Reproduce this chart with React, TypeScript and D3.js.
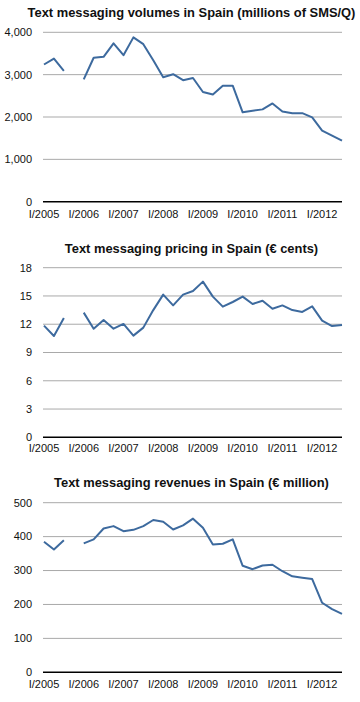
import React from "react";
import * as d3 from "d3";

const quarters: string[] = [
  "I/2005","II/2005","III/2005","IV/2005",
  "I/2006","II/2006","III/2006","IV/2006",
  "I/2007","II/2007","III/2007","IV/2007",
  "I/2008","II/2008","III/2008","IV/2008",
  "I/2009","II/2009","III/2009","IV/2009",
  "I/2010","II/2010","III/2010","IV/2010",
  "I/2011","II/2011","III/2011","IV/2011",
  "I/2012","II/2012","III/2012",
];

const xTickLabels: string[] = ["I/2005","I/2006","I/2007","I/2008","I/2009","I/2010","I/2011","I/2012"];

const volumes: (number | null)[] = [
  3240, 3380, 3090, null,
  2890, 3400, 3420, 3740,
  3460, 3880, 3720, 3340,
  2940, 3010, 2870, 2920,
  2590, 2530, 2740, 2740,
  2110, 2150, 2180, 2320,
  2130, 2090, 2090, 1990,
  1680, 1560, 1440,
];

const pricing: (number | null)[] = [
  11.85, 10.75, 12.66, null,
  13.23, 11.53, 12.45, 11.53,
  12.03, 10.79, 11.64, 13.5,
  15.14, 14.0, 15.14, 15.53,
  16.52, 14.93, 13.87, 14.36,
  14.93, 14.15, 14.5, 13.65,
  14.0, 13.5, 13.3, 13.9,
  12.38, 11.81, 11.92,
];

const revenues: (number | null)[] = [
  385, 362, 389, null,
  380, 392, 424, 431,
  416, 420, 431, 449,
  444, 421, 433, 453,
  426, 377, 379, 392,
  314, 304, 315, 317,
  298, 283, 279, 275,
  205, 186, 172,
];

const volumeTicks = [0, 1000, 2000, 3000, 4000];
const pricingTicks = [0, 3, 6, 9, 12, 15, 18];
const revenueTicks = [0, 100, 200, 300, 400, 500];

const titles = [
  "Text messaging volumes in Spain (millions of SMS/Q)",
  "Text messaging pricing in Spain (€ cents)",
  "Text messaging revenues in Spain (€ million)",
];

const FONT = "'Liberation Sans', Arial, Helvetica, sans-serif";
const LINE = "#3d6a9e";

type PanelProps = {
  title: string;
  values: (number | null)[];
  ticks: number[];
  fmt: (v: number) => string;
  titleY: number;
  top: number;
  bottom: number;
  labelY: number;
};

function Panel({ title, values, ticks, fmt, titleY, top, bottom, labelY }: PanelProps) {
  const x = d3.scalePoint<string>().domain(quarters).range([44, 342]);
  const y = d3.scaleLinear().domain([0, ticks[ticks.length - 1]]).range([bottom, top]);
  const line = d3
    .line<number | null>()
    .defined((d) => d !== null)
    .x((_, i) => x(quarters[i]) as number)
    .y((d) => y(d as number));
  return (
    <g>
      <text x={191.5} y={titleY} textAnchor="middle" fontFamily={FONT} fontWeight="bold" fontSize={12.9} fill="#111">
        {title}
      </text>
      {ticks.map((t) => (
        <g key={t}>
          {t !== 0 && (
            <line x1={43} x2={342} y1={y(t)} y2={y(t)} stroke="#a9a9a9" strokeWidth={1} />
          )}
          <text x={32} y={y(t)} dy="0.35em" textAnchor="end" fontFamily={FONT} fontSize={11} fill="#111">
            {fmt(t)}
          </text>
        </g>
      ))}
      <path d={line(values) || ""} fill="none" stroke={LINE} strokeWidth={2} strokeLinejoin="round" />
      <line x1={43} x2={342} y1={bottom} y2={bottom} stroke="#000" strokeWidth={1.5} />
      {xTickLabels.map((q) => (
        <text key={q} x={x(q)} y={labelY} textAnchor="middle" fontFamily={FONT} fontSize={11} fill="#111">
          {q}
        </text>
      ))}
    </g>
  );
}

export default function App() {
  const comma = d3.format(",");
  return (
    <svg width={360} height={702} style={{ position: "absolute", left: 0, top: 0, background: "#fff" }}>
      <rect width={360} height={702} fill="#fff" />
      <Panel title={titles[0]} values={volumes} ticks={volumeTicks} fmt={comma} titleY={17} top={32.3} bottom={201.7} labelY={218} />
      <Panel title={titles[1]} values={pricing} ticks={pricingTicks} fmt={(v) => String(v)} titleY={252.7} top={267.7} bottom={437.3} labelY={452.3} />
      <Panel title={titles[2]} values={revenues} ticks={revenueTicks} fmt={(v) => String(v)} titleY={487.3} top={502.7} bottom={672.3} labelY={687.5} />
    </svg>
  );
}
